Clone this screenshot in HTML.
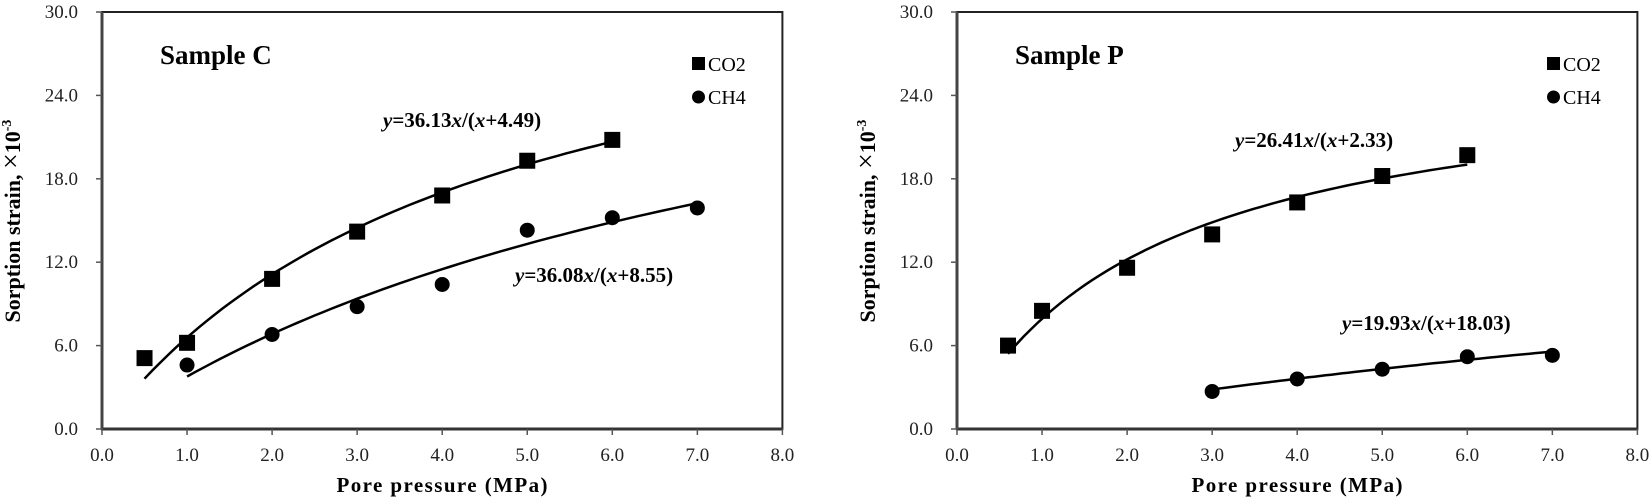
<!DOCTYPE html>
<html><head><meta charset="utf-8"><style>
html,body{margin:0;padding:0;background:#fff;}
svg{display:block;font-family:"Liberation Serif",serif;}
</style></head><body>
<svg id="s" width="1650" height="502" xmlns="http://www.w3.org/2000/svg"></svg>
<script>
const s=document.getElementById('s');let h='';
function chart(ox,title,eqs,series,leg){
  const X=v=>ox+85.05*v, Y=v=>429-13.9*v;
  h+=`<rect x="${ox}" y="12" width="${680.4}" height="417" fill="none" stroke="#222" stroke-width="2"/>`;
  h+=`<line x1="${ox-1}" y1="429" x2="${ox+681}" y2="429" stroke="#333" stroke-width="3"/>`;
  h+=`<line x1="${ox}" y1="12" x2="${ox}" y2="429" stroke="#444" stroke-width="3"/>`;
  for(let i=0;i<=5;i++){const y=Y(i*6);h+=`<line x1="${ox-6}" y1="${y}" x2="${ox}" y2="${y}" stroke="#555" stroke-width="1.5"/>`;
    h+=`<text x="${ox-24}" y="${y+6}" font-size="19" text-anchor="end" fill="#222">${(i*6).toFixed(1)}</text>`;}
  for(let i=0;i<=8;i++){const x=X(i);h+=`<line x1="${x}" y1="429" x2="${x}" y2="435" stroke="#555" stroke-width="1.5"/>`;
    h+=`<text x="${x}" y="461" font-size="19" text-anchor="middle" fill="#222">${i.toFixed(1)}</text>`;}
  h+=`<text x="${ox+340}" y="492" font-size="21" font-weight="bold" text-anchor="middle" textLength="211">Pore pressure  (MPa)</text>`;
  h+=`<text transform="translate(${ox-82},221) rotate(-90)" font-size="22" font-weight="bold" text-anchor="middle">Sorption strain, <tspan font-weight="normal" font-size="28">×</tspan>10<tspan font-size="14" dy="-9">-3</tspan></text>`;
  h+=`<text x="${ox+58}" y="64" font-size="27" font-weight="bold">${title}</text>`;
  for(const e of eqs){h+=`<text x="${e[0]}" y="${e[1]}" font-size="21" font-weight="bold"><tspan font-style="italic">y</tspan>=${e[2]}<tspan font-style="italic">x</tspan>/(<tspan font-style="italic">x</tspan>+${e[3]})</text>`;}
  for(const sr of series){
    let d='';for(let i=0;i<=60;i++){const x=sr.a+(sr.b-sr.a)*i/60;const y=sr.k*x/(x+sr.c);d+=(i?'L':'M')+X(x).toFixed(1)+' '+Y(y).toFixed(1);}
    h+=`<path d="${d}" fill="none" stroke="#000" stroke-width="2.5"/>`;
    for(const p of sr.p){const x=X(p[0]),y=Y(p[1]);
      if(sr.sq)h+=`<rect x="${x-8}" y="${y-8}" width="16" height="16" fill="#000"/>`;
      else h+=`<circle cx="${x}" cy="${y}" r="7.5" fill="#000"/>`;}
  }
  const lx=ox+590;
  h+=`<rect x="${lx}" y="57" width="13" height="13" fill="#000"/><text x="${lx+16}" y="71" font-size="20">CO2</text>`;
  h+=`<circle cx="${lx+6.5}" cy="97" r="6.5" fill="#000"/><text x="${lx+16}" y="104" font-size="20">CH4</text>`;
}
chart(102,'Sample C',[[383,127,'36.13','4.49'],[515,282,'36.08','8.55']],[
 {sq:1,k:36.13,c:4.49,a:0.5,b:6,p:[[0.5,5.1],[1,6.2],[2,10.8],[3,14.2],[4,16.8],[5,19.3],[6,20.8]]},
 {sq:0,k:36.08,c:8.55,a:1,b:7,p:[[1,4.6],[2,6.8],[3,8.8],[4,10.4],[5,14.3],[6,15.2],[7,15.9]]}]);
chart(957,'Sample P',[[1235,147,'26.41','2.33'],[1342,330,'19.93','18.03']],[
 {sq:1,k:26.41,c:2.33,a:0.6,b:6,p:[[0.6,6.0],[1,8.5],[2,11.6],[3,14.0],[4,16.3],[5,18.2],[6,19.7]]},
 {sq:0,k:19.93,c:18.03,a:3,b:7,p:[[3,2.7],[4,3.6],[5,4.3],[6,5.2],[7,5.3]]}]);
s.innerHTML=h;
</script>
</body></html>
